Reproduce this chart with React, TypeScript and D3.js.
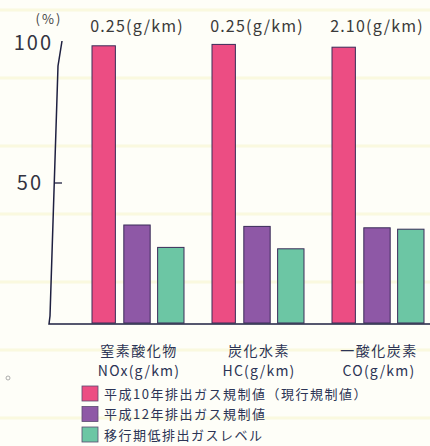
import React from "react";
import * as d3 from "d3";

const categories = ["NOx", "HC", "CO"];
const categoryJa = ["窒素酸化物", "炭化水素", "一酸化炭素"];
const categoryEn = ["NOx(g/km)", "HC(g/km)", "CO(g/km)"];
const topLabels = ["0.25(g/km)", "0.25(g/km)", "2.10(g/km)"];
const seriesNames = [
  "平成10年排出ガス規制値（現行規制値）",
  "平成12年排出ガス規制値",
  "移行期低排出ガスレベル",
];
const h10Values = [99, 99.5, 98.5];
const h12Values = [35, 34.5, 34];
const lowValues = [27, 26.5, 33.5];
const yTicks = [50, 100];
const colors = ["#ec4d83", "#8e58a6", "#6cc6a4"];

export default function App() {
  const W = 430, H = 446;
  const y = d3.scaleLinear().domain([0, 100]).range([323, 43]);
  const xg = d3.scaleBand<string>().domain(categories).range([78, 438]).padding(0);
  const xs = d3.scaleBand<string>().domain(["0", "1", "2"]).range([12, 106]).paddingInner(0.22).paddingOuter(0);
  const series = [h10Values, h12Values, lowValues];
  const stripes = d3.range(7).map((i) => 10 + i * 68);
  const font = "'Noto Sans CJK JP', 'Noto Sans', sans-serif";
  const axisPath = d3.line()([
    [62, 41], [58, 66], [50, 316], [49, 324], [430, 324],
  ]);
  return (
    <svg width={W} height={H} style={{ position: "absolute", left: 0, top: 0 }}>
      <rect width={W} height={H} fill="#fefef8" />
      {stripes.map((s) => (
        <rect key={s} x={0} y={s - 1.5} width={W} height={3} fill="#f8f6d4" opacity={0.7} />
      ))}
      {categories.map((c, ci) =>
        series.map((vals, si) => {
          const shrink = si === 0 ? 2 : 0;
          return (
            <rect
              key={c + si}
              x={(xg(c) as number) + (xs(String(si)) as number) + shrink}
              y={y(vals[ci])}
              width={xs.bandwidth() - shrink * 1.5}
              height={y(0) - y(vals[ci])}
              fill={colors[si]}
              stroke="#3a2c58"
              strokeWidth={1}
            />
          );
        })
      )}
      <path d={axisPath || ""} fill="none" stroke="#1e2040" strokeWidth={1.5} />
      {yTicks.map((t) => (
        <g key={t}>
          {t !== 100 && <line x1={55} x2={62} y1={y(t)} y2={y(t)} stroke="#1e2040" strokeWidth={1.3} />}
          <text x={t === 100 ? 53 : 43} y={y(t) + 7} textAnchor="end" fontSize={20} fill="#333340" fontFamily={font} letterSpacing={2}>
            {t}
          </text>
        </g>
      ))}
      <text x={49} y={24} textAnchor="middle" fontSize={13} fill="#444" fontFamily={font} letterSpacing={2}>(%)</text>
      {categories.map((c, ci) => {
        const cx = (xg(c) as number) + 12 + (106 - 12) / 2;
        return (
          <g key={c}>
            <text x={cx} y={32} textAnchor="middle" fontSize={16} fill="#3a3a3a" fontFamily={font} letterSpacing={1.2}>
              {topLabels[ci]}
            </text>
            <text x={cx + 2} y={356} textAnchor="middle" fontSize={14} fill="#2c3455" fontFamily={font} letterSpacing={1.5}>
              {categoryJa[ci]}
            </text>
            <text x={cx + 2} y={376} textAnchor="middle" fontSize={14} fill="#2c3455" fontFamily={font} letterSpacing={1.2}>
              {categoryEn[ci]}
            </text>
          </g>
        );
      })}
      <circle cx={8} cy={378} r={2} fill="none" stroke="#999" strokeWidth={0.8} />
      {seriesNames.map((n, i) => (
        <g key={n} transform={`translate(82, ${386 + i * 20.5})`}>
          <rect x={0} y={0} width={16} height={15} fill={colors[i]} stroke="#5a4a70" strokeWidth={0.8} />
          <text x={22} y={12.5} fontSize={13} fill="#2c3455" fontFamily={font} letterSpacing={1.5}>{n}</text>
        </g>
      ))}
    </svg>
  );
}
